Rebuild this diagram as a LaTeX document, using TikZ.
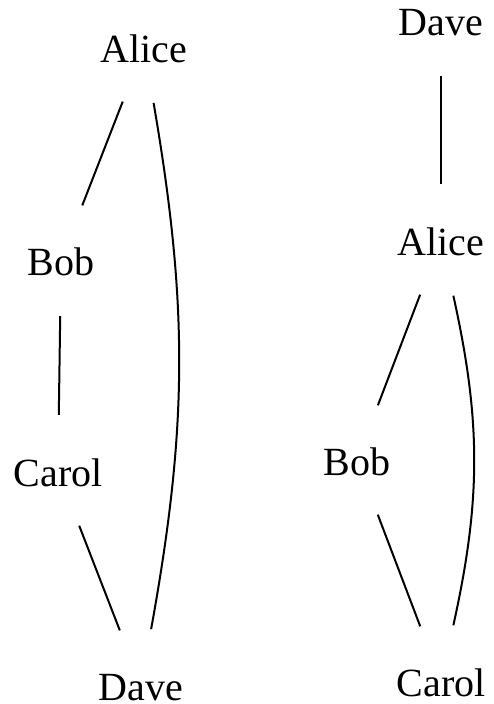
\documentclass[tikz,border=0pt]{standalone}
\usepackage{fontspec}
\setmainfont{Liberation Serif}
\newfontfamily\namefont{Liberation Serif}
\usetikzlibrary{shapes.geometric}

\tikzset{
  person/.style={ellipse, minimum width=180pt, minimum height=112pt, inner sep=0pt,
    text height=31pt, text depth=0pt, font=\namefont\fontsize{40}{48}\selectfont},
  tie/.style={line width=2pt}
}

\begin{document}
\begin{tikzpicture}[x=1pt, y=-1pt]
            \useasboundingbox (0, 0) rectangle (494, 704);
            % left tree
            \node [person] (alice) at (144, 47) {Alice};
            \node [person] (bob) at (61, 260) {Bob};
            \node [person] (carol) at (58, 471) {Carol};
            \node [person] (dave) at (141, 685) {Dave};
            \draw [tie] (alice) -- (bob);
            \draw [tie] (bob) -- (carol);
            \draw [tie] (carol) -- (dave);
            \draw [tie] (alice) to [bend left=10] (dave);
            % right tree
            \node [person] (dave2) at (441, 20) {Dave};
            \node [person] (alice2) at (441, 240) {Alice};
            \node [person] (bob2) at (357, 460) {Bob};
            \node [person] (carol2) at (441, 681) {Carol};
            \draw [tie] (dave2) -- (alice2);
            \draw [tie] (alice2) -- (bob2);
            \draw [tie] (bob2) -- (carol2);
            \draw [tie] (alice2) to [bend left=12.5] (carol2);
\end{tikzpicture}
\end{document}
